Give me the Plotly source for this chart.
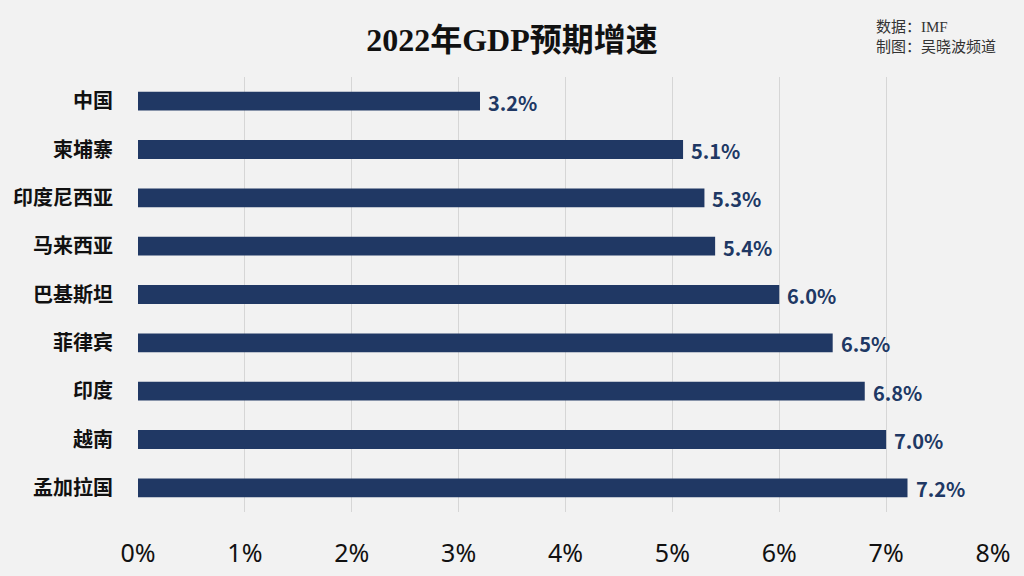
import plotly.graph_objects as go

categories = ["中国", "柬埔寨", "印度尼西亚", "马来西亚", "巴基斯坦", "菲律宾", "印度", "越南", "孟加拉国"]
values = [3.2, 5.1, 5.3, 5.4, 6.0, 6.5, 6.8, 7.0, 7.2]
value_labels = ["3.2%", "5.1%", "5.3%", "5.4%", "6.0%", "6.5%", "6.8%", "7.0%", "7.2%"]
tick_vals = [0, 1, 2, 3, 4, 5, 6, 7, 8]
tick_text = ["0%", "1%", "2%", "3%", "4%", "5%", "6%", "7%", "8%"]

BG = "#f2f2f2"
NAVY = "#203864"

W, H = 1024, 576
ML, MR, MT, MB = 138, 31, 77, 64

fig = go.Figure(go.Bar(
    x=values, y=categories, orientation="h",
    marker=dict(color=NAVY, line=dict(width=0)),
    width=0.39,
    hoverinfo="skip",
))

for cat, val, lab in zip(categories, values, value_labels):
    fig.add_annotation(x=val, y=cat, xref="x", yref="y", text=lab, showarrow=False,
                       xanchor="left", yanchor="middle", xshift=6, yshift=-1,
                       font=dict(family="Noto Sans CJK SC", size=20, color=NAVY, weight="bold"))

plot_h = H - MT - MB
plot_w = W - ML - MR
def py(ypix):
    return (H - MB - ypix) / plot_h
def px(xpix):
    return (xpix - ML) / plot_w

fig.update_layout(
    width=W, height=H,
    paper_bgcolor=BG, plot_bgcolor=BG,
    margin=dict(l=ML, r=MR, t=MT, b=MB, autoexpand=False),
    showlegend=False,
    title=dict(text="2022年GDP预期增速", x=0.5, xanchor="center", y=1 - 40 / H, yanchor="middle",
               font=dict(family="Liberation Serif, Noto Sans CJK SC", size=32, color="#111111", weight="bold")),
    xaxis=dict(range=[0, 8], tickvals=tick_vals, ticktext=tick_text,
               showgrid=True, gridcolor="#d6d6d6", gridwidth=1, zeroline=False,
               showline=False, ticks="", ticklabelstandoff=24, automargin=False,
               tickfont=dict(family="Noto Sans, Noto Sans CJK SC", size=25, color="#111111")),
    yaxis=dict(autorange="reversed", showgrid=False, zeroline=False, showline=False,
               ticks="", ticklabelstandoff=24, automargin=False,
               tickfont=dict(family="Noto Sans CJK SC", size=20, color="#111111", weight="bold")),
)

fig.add_annotation(text="数据：IMF", xref="paper", yref="paper", x=px(874), y=py(27),
                   showarrow=False, xanchor="left", yanchor="middle",
                   font=dict(family="Liberation Serif, Noto Sans CJK SC", size=15, color="#333333"))
fig.add_annotation(text="制图：吴晓波频道", xref="paper", yref="paper", x=px(874), y=py(47),
                   showarrow=False, xanchor="left", yanchor="middle",
                   font=dict(family="Liberation Serif, Noto Sans CJK SC", size=15, color="#333333"))

fig.write_html("out.html", config={"displayModeBar": False},
               post_script="document.body.style.margin='0';document.body.style.background='#f2f2f2';document.body.style.overflow='hidden';")
